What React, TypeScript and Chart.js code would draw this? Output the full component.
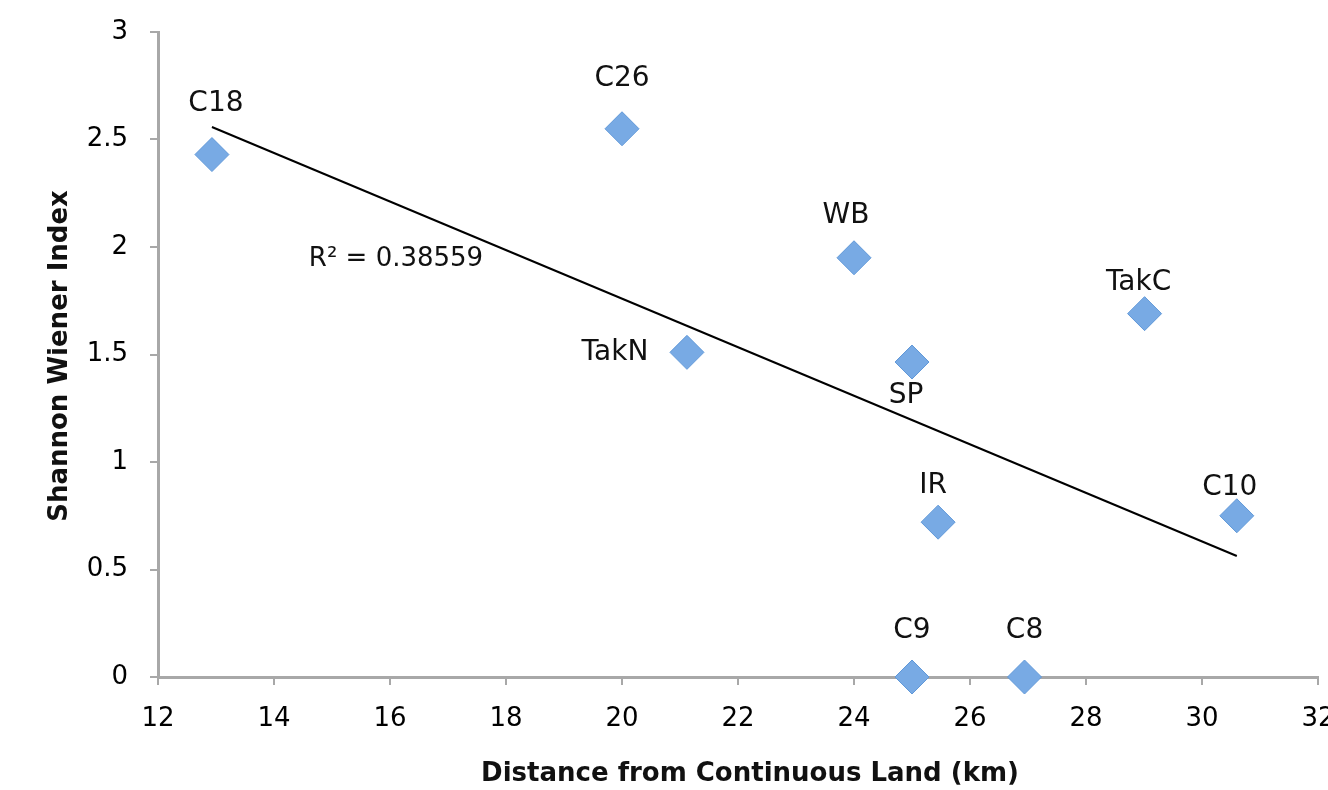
import React, { useEffect, useRef } from "react";
import { Chart, registerables } from "chart.js";

Chart.register(...registerables);

const siteNames = ["C18", "C26", "WB", "TakN", "SP", "TakC", "IR", "C10", "C9", "C8"];
const distanceKm = [12.93, 20.0, 24.0, 21.12, 25.0, 29.01, 25.45, 30.6, 25.0, 26.94];
const shannonIndex = [2.43, 2.55, 1.95, 1.51, 1.465, 1.69, 0.72, 0.75, 0, 0];
const trendX = [12.93, 30.6];
const trendY = [2.558, 0.563];
const rSquaredText = "R² = 0.38559";
const xTitle = "Distance from Continuous Land (km)";
const yTitle = "Shannon Wiener Index";

// label offsets (pixels) relative to each marker
const labelOffsets: [number, number][] = [
  [4, -51], [0, -50], [-8, -42], [-72, 0], [-6, 34],
  [-6, -31], [-5, -36], [-7, -28], [0, -46], [0, -46],
];

const FONT = "'DejaVu Sans', sans-serif";

const annotate = {
  id: "annotate",
  afterDatasetsDraw(chart: any) {
    const ctx = chart.ctx;
    const meta = chart.getDatasetMeta(1);
    ctx.save();
    ctx.fillStyle = "#111";
    ctx.font = `28px ${FONT}`;
    ctx.textAlign = "center";
    ctx.textBaseline = "middle";
    meta.data.forEach((pt: any, i: number) => {
      const [dx, dy] = labelOffsets[i];
      ctx.fillText(siteNames[i], pt.x + dx, pt.y + dy);
    });
    ctx.font = `26px ${FONT}`;
    ctx.fillText(rSquaredText, 396, 259);
    // axis titles
    ctx.font = `bold 26px ${FONT}`;
    ctx.fillText(xTitle, 750, 774);
    ctx.translate(60, 356);
    ctx.rotate(-Math.PI / 2);
    ctx.fillText(yTitle, 0, 0);
    ctx.restore();
  },
};

export default function App() {
  const ref = useRef<HTMLCanvasElement>(null);
  useEffect(() => {
    const chart = new Chart(ref.current!, {
      type: "scatter",
      data: {
        datasets: [
          {
            type: "line",
            data: trendX.map((x, i) => ({ x, y: trendY[i] })),
            borderColor: "#000",
            borderWidth: 2,
            pointRadius: 0,
            fill: false,
            clip: false,
          },
          {
            data: distanceKm.map((x, i) => ({ x, y: shannonIndex[i] })),
            pointStyle: "rectRot",
            pointRadius: 17,
            pointHoverRadius: 17,
            backgroundColor: "#78aae4",
            borderColor: "#6098d8",
            borderWidth: 1,
            clip: false,
          },
        ] as any,
      },
      options: {
        animation: false,
        responsive: false,
        events: [],
        layout: { autoPadding: false, padding: { top: 32, right: 10, left: 0, bottom: 0 } },
        plugins: { legend: { display: false }, tooltip: { enabled: false } },
        scales: {
          x: {
            type: "linear",
            min: 12,
            max: 32,
            ticks: { stepSize: 2, color: "#000", font: { family: FONT, size: 26 }, padding: 19 },
            grid: { drawOnChartArea: false, color: "#a8a8a8", tickLength: 8, lineWidth: 2 },
            border: { display: true, color: "#a8a8a8", width: 3 },
            afterFit(s: any) {
              s.height = 113;
              s.paddingLeft = 0;
              s.paddingRight = 0;
            },
          },
          y: {
            min: 0,
            max: 3,
            ticks: {
              stepSize: 0.5,
              color: "#000",
              font: { family: FONT, size: 26 },
              padding: 22,
              callback: (v: any) => String(v),
            },
            grid: { drawOnChartArea: false, color: "#a8a8a8", tickLength: 8, lineWidth: 2 },
            border: { display: true, color: "#a8a8a8", width: 3 },
            afterFit(s: any) {
              s.width = 158;
              s.paddingTop = 0;
              s.paddingBottom = 0;
            },
          },
        },
      } as any,
      plugins: [annotate],
    });
    return () => chart.destroy();
  }, []);
  return (
    <div style={{ position: "fixed", left: 0, top: 0, width: 1328, height: 790, background: "#fff" }}>
      <canvas ref={ref} width={1328} height={790} style={{ width: 1328, height: 790 }} />
    </div>
  );
}
